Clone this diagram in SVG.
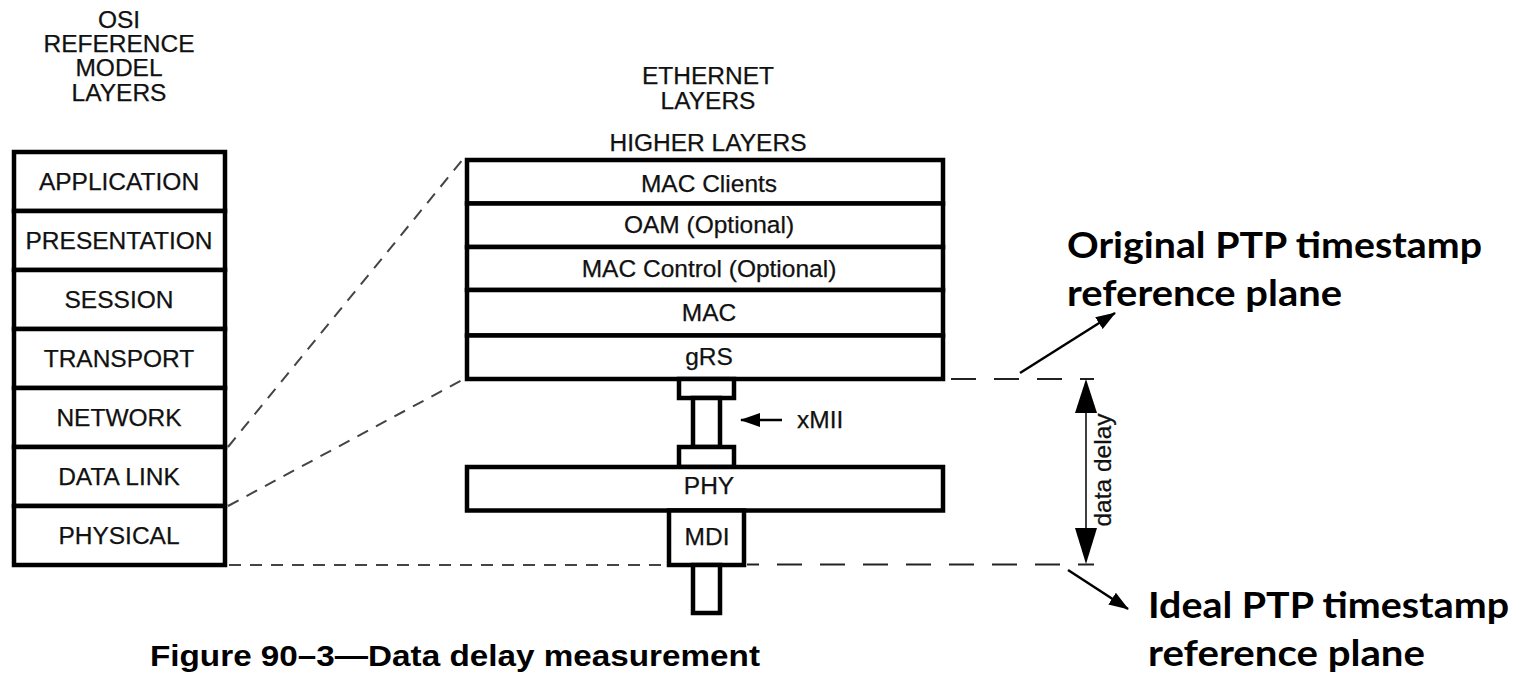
<svg xmlns="http://www.w3.org/2000/svg" width="1514" height="681" viewBox="0 0 1514 681">
<defs>
<style>
.box{fill:#fff;stroke:#000;stroke-width:4.5}
.t{font-family:"Liberation Sans",Arial,sans-serif;font-size:24.5px;fill:#111;text-anchor:middle;stroke:#111;stroke-width:0.25}
.e{font-family:"Liberation Sans",Arial,sans-serif;font-size:24.5px;fill:#111;text-anchor:middle;stroke:#111;stroke-width:0.25}
.ann{font-family:Lato,"Open Sans",sans-serif;font-weight:bold;font-size:37px;fill:#000}
.dash{fill:none;stroke:#444;stroke-width:2;stroke-dasharray:12 9}
.dashr{fill:none;stroke:#222;stroke-width:2;stroke-dasharray:25 18}
.arr{stroke:#000;stroke-width:2.5;fill:none}
</style>
<marker id="ah" viewBox="0 0 20 14" refX="19" refY="7" markerWidth="20" markerHeight="14" markerUnits="userSpaceOnUse" orient="auto">
<path d="M0,0 L20,7 L0,14 Z" fill="#000"/>
</marker>
</defs>
<rect width="1514" height="681" fill="#fff"/>

<g id="osi-title">
<text class="t" x="119" y="28">OSI</text>
<text class="t" x="119" y="52">REFERENCE</text>
<text class="t" x="119" y="76">MODEL</text>
<text class="t" x="119" y="101">LAYERS</text>
</g>

<g id="osi-application"><rect class="box" x="14" y="152" width="211" height="59"/><text class="t" x="119" y="190">APPLICATION</text></g>
<g id="osi-presentation"><rect class="box" x="14" y="211" width="211" height="59"/><text class="t" x="119" y="249">PRESENTATION</text></g>
<g id="osi-session"><rect class="box" x="14" y="270" width="211" height="59"/><text class="t" x="119" y="308">SESSION</text></g>
<g id="osi-transport"><rect class="box" x="14" y="329" width="211" height="59"/><text class="t" x="119" y="367">TRANSPORT</text></g>
<g id="osi-network"><rect class="box" x="14" y="388" width="211" height="59"/><text class="t" x="119" y="426">NETWORK</text></g>
<g id="osi-datalink"><rect class="box" x="14" y="447" width="211" height="59"/><text class="t" x="119" y="485">DATA LINK</text></g>
<g id="osi-physical"><rect class="box" x="14" y="506" width="211" height="59"/><text class="t" x="119" y="544">PHYSICAL</text></g>

<g id="eth-title">
<text class="e" x="708" y="84">ETHERNET</text>
<text class="e" x="708" y="109">LAYERS</text>
<text class="e" x="708" y="151">HIGHER LAYERS</text>
</g>

<g id="eth-macclients"><rect class="box" x="467" y="160" width="476" height="43.5"/><text class="e" x="709" y="192">MAC Clients</text></g>
<g id="eth-oam"><rect class="box" x="467" y="203.5" width="476" height="43.5"/><text class="e" x="709" y="233">OAM (Optional)</text></g>
<g id="eth-maccontrol"><rect class="box" x="467" y="247" width="476" height="43"/><text class="e" x="709" y="277">MAC Control (Optional)</text></g>
<g id="eth-mac"><rect class="box" x="467" y="290" width="476" height="45.5"/><text class="e" x="709" y="321">MAC</text></g>
<g id="eth-grs"><rect class="box" x="467" y="335.5" width="476" height="43.5"/><text class="e" x="709" y="365">gRS</text></g>

<g id="xmii-upper"><rect class="box" x="679" y="379" width="55" height="19"/></g>
<g id="xmii-bar"><rect class="box" x="693" y="398" width="27" height="49"/></g>
<g id="xmii-lower"><rect class="box" x="679" y="447" width="55" height="20"/></g>
<g id="eth-phy"><rect class="box" x="467" y="467" width="476" height="43.5"/><text class="e" x="709" y="494">PHY</text></g>
<g id="eth-mdi"><rect class="box" x="669" y="510.5" width="75" height="54.5"/><text class="e" x="707" y="545">MDI</text></g>
<g id="medium"><rect class="box" x="693" y="565" width="27" height="48"/></g>

<g id="xmii-label">
<line class="arr" x1="782" y1="420" x2="741" y2="420" stroke-width="2" marker-end="url(#ah)"/>
<text class="e" x="797" y="428" style="text-anchor:start">xMII</text>
</g>

<g id="connectors">
<line class="dash" x1="228" y1="447" x2="464" y2="158"/>
<line class="dash" x1="228" y1="506" x2="464" y2="379"/>
<line class="dash" x1="229" y1="565" x2="667" y2="565"/>
<line class="dashr" x1="747" y1="564.5" x2="1094" y2="564.5" stroke-dashoffset="13"/>
<line class="dashr" x1="951" y1="379" x2="1094" y2="379"/>
<line x1="1086" y1="395" x2="1086" y2="548" stroke="#000" stroke-width="1.5"/>
<path d="M1086,379 L1097,413 L1075,413 Z" fill="#000"/>
<path d="M1086,564 L1097,528 L1075,528 Z" fill="#000"/>
<line class="arr" x1="1020" y1="373" x2="1115" y2="313" marker-end="url(#ah)"/>
<line class="arr" x1="1068" y1="570" x2="1128" y2="609" marker-end="url(#ah)"/>
</g>

<g id="data-delay-label">
<text class="e" transform="translate(1111,470) rotate(-90)" x="0" y="0">data delay</text>
</g>

<g id="original-plane-label">
<text class="ann" x="1067" y="258" textLength="415" lengthAdjust="spacingAndGlyphs">Original PTP timestamp</text>
<text class="ann" x="1067" y="306" textLength="275" lengthAdjust="spacingAndGlyphs">reference plane</text>
</g>
<g id="ideal-plane-label">
<text class="ann" x="1148" y="618" textLength="361" lengthAdjust="spacingAndGlyphs">Ideal PTP timestamp</text>
<text class="ann" x="1148" y="666" textLength="277" lengthAdjust="spacingAndGlyphs">reference plane</text>
</g>

<g id="caption">
<text x="150" y="666" font-family="'Liberation Sans',Arial,sans-serif" font-weight="bold" font-size="30" fill="#000" textLength="610" lengthAdjust="spacingAndGlyphs">Figure 90–3—Data delay measurement</text>
</g>
</svg>
